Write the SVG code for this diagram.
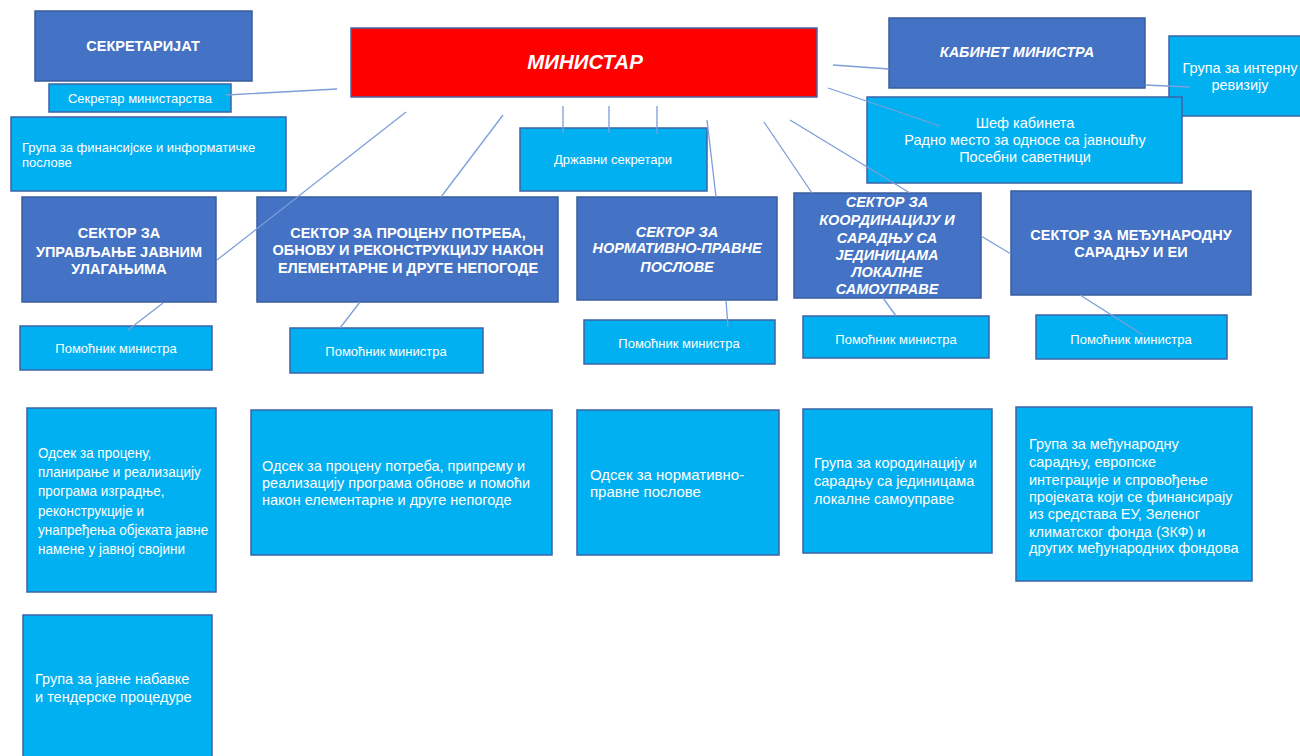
<svg xmlns="http://www.w3.org/2000/svg" width="1300" height="756" viewBox="0 0 1300 756">
<style>
.dk{fill:#4472C4;stroke:#385D9E;stroke-width:1.5}
.lt{fill:#00B0F0;stroke:#3B63A8;stroke-width:1.5}
.rd{fill:#FF0000;stroke:#4A66A8;stroke-width:1.5}
text{font-family:"Liberation Sans",Arial,sans-serif;fill:#FFFFFF}
.c{text-anchor:middle}
.b{font-weight:bold}
.i{font-style:italic}
.s13{font-size:13px}
.s14{font-size:14.5px}
.s15{font-size:15px}
.conn line,.conn path{stroke:#7C9ED9;stroke-width:1.3;fill:none}
</style>
<rect width="1300" height="756" fill="#FFFFFF"/>
<g id="sekretarijat"><rect class="dk" x="35" y="11" width="217" height="70"/><text class="c b" style="font-size:14.5px" x="143" y="51">СЕКРЕТАРИЈАТ</text></g>
<g id="sekretar"><rect class="lt" x="49" y="84" width="182" height="28"/><text class="c s13" x="140" y="103">Секретар министарства</text></g>
<g id="grupa-fin"><rect class="lt" x="11" y="117" width="275" height="74"/><text class="s13" x="22" y="152">Група за финансијске и информатичке</text><text class="s13" x="22" y="167">послове</text></g>
<g id="ministar"><rect class="rd" x="351" y="28" width="466" height="69"/><text class="c b i" style="font-size:20.5px" x="585" y="69">МИНИСТАР</text></g>
<g id="drzavni"><rect class="lt" x="520" y="128" width="187" height="63"/><text class="c s13" x="613" y="164">Државни секретари</text></g>
<g id="kabinet"><rect class="dk" x="889" y="18" width="256" height="70"/><text class="c b i s14" x="1017" y="57">КАБИНЕТ МИНИСТРА</text></g>
<g id="revizija"><rect class="lt" x="1169" y="36" width="135" height="80"/><text class="c s14" x="1240" y="73">Група за интерну</text><text class="c s14" x="1240" y="90">ревизију</text></g>
<g id="sef"><rect class="lt" x="867" y="97" width="315" height="86"/><text class="c s14" x="1025" y="128">Шеф кабинета</text><text class="c s14" x="1025" y="145">Радно место за односе са јавношћу</text><text class="c s14" x="1025" y="162">Посебни саветници</text></g>
<g id="sektor-uprav"><rect class="dk" x="22" y="197" width="194" height="105"/><text class="c b s14" x="119" y="238">СЕКТОР ЗА</text><text class="c b s14" x="119" y="257">УПРАВЉАЊЕ ЈАВНИМ</text><text class="c b s14" x="119" y="274">УЛАГАЊИМА</text></g>
<g id="sektor-procenu"><rect class="dk" x="257" y="197" width="301" height="105"/><text class="c b s14" x="408" y="238">СЕКТОР ЗА ПРОЦЕНУ ПОТРЕБА,</text><text class="c b s14" x="408" y="255">ОБНОВУ И РЕКОНСТРУКЦИЈУ НАКОН</text><text class="c b s14" x="408" y="273">ЕЛЕМЕНТАРНЕ И ДРУГЕ НЕПОГОДЕ</text></g>
<g id="sektor-norm"><rect class="dk" x="577" y="197" width="200" height="103"/><text class="c b i s14" x="677" y="237">СЕКТОР ЗА</text><text class="c b i s14" x="677" y="253">НОРМАТИВНО-ПРАВНЕ</text><text class="c b i s14" x="677" y="272">ПОСЛОВЕ</text></g>
<g id="sektor-koord"><rect class="dk" x="794" y="193" width="187" height="105"/><text class="c b i s14" x="887" y="207">СЕКТОР ЗА</text><text class="c b i s14" x="887" y="225">КООРДИНАЦИЈУ И</text><text class="c b i s14" x="887" y="243">САРАДЊУ СА</text><text class="c b i s14" x="887" y="260">ЈЕДИНИЦАМА</text><text class="c b i s14" x="887" y="277">ЛОКАЛНЕ</text><text class="c b i s14" x="887" y="294">САМОУПРАВЕ</text></g>
<g id="sektor-medj"><rect class="dk" x="1011" y="191" width="240" height="104"/><text class="c b s14" x="1131" y="240">СЕКТОР ЗА МЕЂУНАРОДНУ</text><text class="c b s14" x="1131" y="257">САРАДЊУ И ЕИ</text></g>
<g id="pomocnik-1"><rect class="lt" x="20" y="326" width="192" height="44"/><text class="c s13" x="116" y="353">Помоћник министра</text></g>
<g id="pomocnik-2"><rect class="lt" x="290" y="328" width="193" height="45"/><text class="c s13" x="386" y="356">Помоћник министра</text></g>
<g id="pomocnik-3"><rect class="lt" x="584" y="320" width="191" height="44"/><text class="c s13" x="679" y="348">Помоћник министра</text></g>
<g id="pomocnik-4"><rect class="lt" x="803" y="316" width="186" height="42"/><text class="c s13" x="896" y="344">Помоћник министра</text></g>
<g id="pomocnik-5"><rect class="lt" x="1036" y="315" width="191" height="44"/><text class="c s13" x="1131" y="344">Помоћник министра</text></g>
<g id="odsek-uprav"><rect class="lt" x="27" y="408" width="189" height="184"/><g transform="translate(38,0) scale(0.93,1)" style="font-size:14.5px"><text x="0" y="458">Одсек за процену,</text><text x="0" y="477">планирање и реализацију</text><text x="0" y="496">програма изградње,</text><text x="0" y="516">реконструкције и</text><text x="0" y="535">унапређења објеката јавне</text><text x="0" y="554">намене у јавној својини</text></g></g>
<g id="grupa-nabavke"><rect class="lt" x="23" y="615" width="189" height="150"/><text class="s14" x="35" y="684">Група за јавне набавке</text><text class="s14" x="35" y="702">и тендерске процедуре</text></g>
<g id="odsek-procenu"><rect class="lt" x="251" y="410" width="301" height="145"/><text class="s14" x="262" y="471">Одсек за процену потреба, припрему и</text><text class="s14" x="262" y="488">реализацију програма обнове и помоћи</text><text class="s14" x="262" y="505">након елементарне и друге непогоде</text></g>
<g id="odsek-norm"><rect class="lt" x="577" y="410" width="202" height="145"/><text class="s15" x="590" y="480">Одсек за нормативно-</text><text class="s15" x="590" y="497">правне послове</text></g>
<g id="grupa-koord"><rect class="lt" x="803" y="409" width="189" height="144"/><text class="s14" x="814" y="468">Група за кородинацију и</text><text class="s14" x="814" y="486">сарадњу са јединицама</text><text class="s14" x="814" y="504">локалне самоуправе</text></g>
<g id="grupa-medj"><rect class="lt" x="1016" y="407" width="236" height="174"/><text class="s14" x="1029" y="449">Група за међународну</text><text class="s14" x="1029" y="467">сарадњу, европске</text><text class="s14" x="1029" y="485">интеграције и спровођење</text><text class="s14" x="1029" y="502">пројеката који се финансирају</text><text class="s14" x="1029" y="519">из средстава ЕУ, Зеленог</text><text class="s14" x="1029" y="537">климатског фонда (ЗКФ) и</text><text class="s14" x="1029" y="553">других међународних фондова</text></g>
<g class="conn" id="connectors">
<line x1="226" y1="95" x2="337" y2="89"/>
<line x1="406" y1="112" x2="217" y2="260"/>
<line x1="503" y1="115" x2="441" y2="197"/>
<line x1="563" y1="106" x2="563" y2="133"/>
<line x1="609" y1="106" x2="609" y2="133"/>
<line x1="657" y1="106" x2="657" y2="134"/>
<line x1="707" y1="120" x2="716" y2="197"/>
<line x1="764" y1="122" x2="812" y2="193"/>
<path d="M790,120 L910,193 M981,236 L1011,254"/>
<line x1="828" y1="88" x2="940" y2="126"/>
<line x1="833" y1="65" x2="889" y2="69"/>
<line x1="1145" y1="85" x2="1190" y2="87"/>
<line x1="163" y1="303" x2="128" y2="330"/>
<line x1="360" y1="302" x2="340" y2="328"/>
<line x1="726" y1="300" x2="728" y2="327"/>
<line x1="883" y1="298" x2="896" y2="316"/>
<line x1="1080" y1="295" x2="1143" y2="335"/>
</g>
</svg>
